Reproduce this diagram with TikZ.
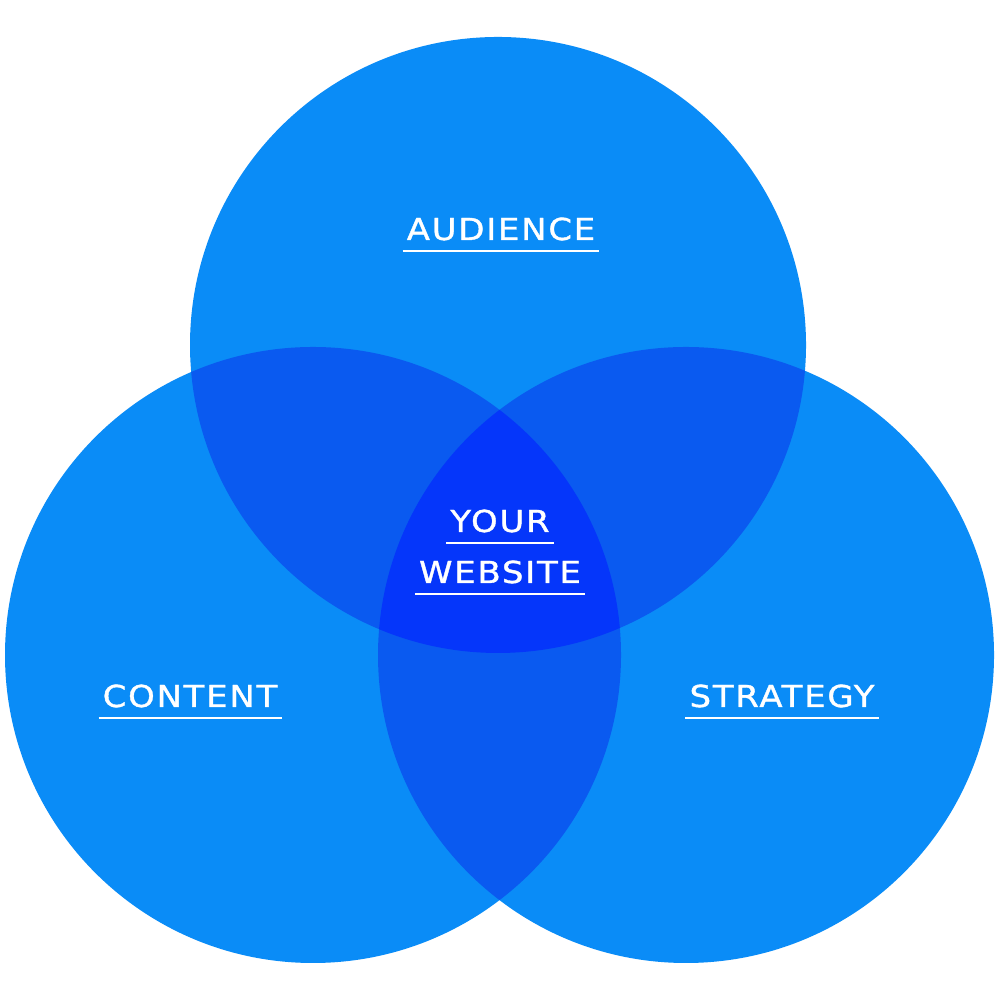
\documentclass[tikz,border=0pt]{standalone}
\usepackage{fontspec}
\newfontfamily\labfont[LetterSpace=6,FakeStretch=1.12,FakeBold=1.2]{DejaVu Sans}
\definecolor{one}{HTML}{0A8CF7}
\definecolor{two}{HTML}{0A5AF0}
\definecolor{three}{HTML}{0536FA}
\tikzset{
  lab/.style={text=white, font=\labfont\fontsize{8.6}{10}\selectfont, inner xsep=1pt, inner ysep=2.8pt, anchor=base},
  uline/.style={white, line width=0.6pt}
}
\begin{document}
\begin{tikzpicture}
\useasboundingbox (0,0) rectangle (10,10);
\fill[white] (0,0) rectangle (10,10);
\def\ca{(4.98,6.55) circle (3.08)}
\def\cb{(3.13,3.45) circle (3.08)}
\def\cc{(6.86,3.45) circle (3.08)}
\fill[one] \ca; \fill[one] \cb; \fill[one] \cc;
\begin{scope}\clip \ca; \fill[two] \cb; \fill[two] \cc; \end{scope}
\begin{scope}\clip \cb; \fill[two] \cc; \end{scope}
\begin{scope}\clip \ca; \clip \cb; \fill[three] \cc; \end{scope}
\node[lab] (aud) at (5.01,7.60) {AUDIENCE};
\node[lab] (your) at (5.00,4.68) {YOUR};
\node[lab] (web) at (5.00,4.17) {WEBSITE};
\node[lab] (con) at (1.90,2.93) {CONTENT};
\node[lab] (str) at (7.82,2.93) {STRATEGY};
\foreach \n in {aud,your,web,con,str}
  \draw[uline] (\n.south west) -- (\n.south east);
\end{tikzpicture}
\end{document}
